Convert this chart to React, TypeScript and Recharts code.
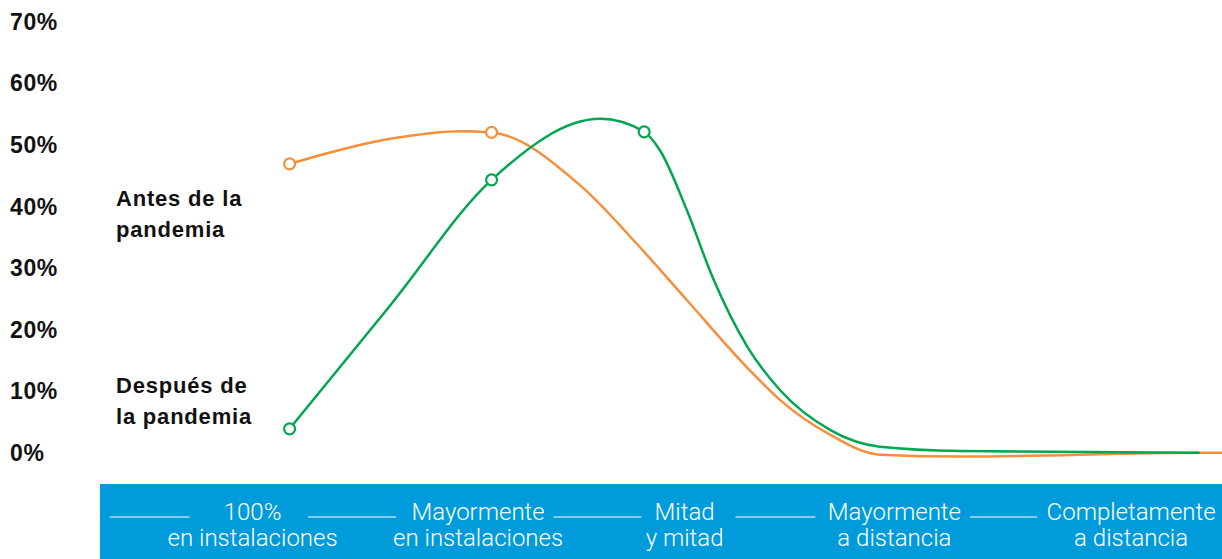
import { LineChart, Line, XAxis, YAxis, Legend } from "recharts";

const ORANGE = "#F68E3A";
const GREEN = "#00A651";
const BLUE = "#009BDB";

const seriesNames = ["Antes de la pandemia", "Después de la pandemia"];

// x = position along the work-mode band, 0 = left edge, 100 = right edge
const antesPos = [16.9, 26.7, 32.1, 34.9, 42.8, 48.1, 52.3, 57.7, 60.6, 65.1, 69.5, 76.7, 98.0, 100];
const antesValues = [46.9, 51.2, 52.2, 52.0, 43.4, 33.4, 24.8, 13.8, 8.6, 2.9, -0.3, -0.6, 0, 0];
const antesMarkers = [0, 3];

const despuesPos = [16.9, 25.9, 34.9, 44.6, 48.5, 49.9, 52.3, 54.6, 57.7, 60.6, 65.1, 69.5, 76.7, 98.0];
const despuesValues = [3.9, 24.0, 44.3, 54.2, 52.1, 49.1, 39.4, 28.5, 17.2, 10.2, 3.7, 1.0, 0.3, 0];
const despuesMarkers = [0, 2, 4];

const categoryTicks = [13.6, 33.7, 52.1, 70.8, 91.9];
const categoryLabels = [
  ["100%", "en instalaciones"],
  ["Mayormente", "en instalaciones"],
  ["Mitad", "y mitad"],
  ["Mayormente", "a distancia"],
  ["Completamente", "a distancia"],
];

const yTicks = [0, 10, 20, 30, 40, 50, 60, 70];

// underscore rules drawn before each category, relative to tick x
const separators = [
  [-143, -63],
  [-170, -82],
  [-131, -43],
  [-159, -79],
  [-161, -94],
];
const legendTops = [183, 370];

const antesData = antesPos.map((pos, i) => ({ pos, value: antesValues[i] }));
const despuesData = despuesPos.map((pos, i) => ({ pos, value: despuesValues[i] }));

const boldFont = {
  fontFamily: "'Liberation Sans', Arial, sans-serif",
  fontWeight: 700,
  fontSize: 22,
  letterSpacing: 0.8,
};

const YTick = (props: any) => {
  const { y, payload } = props;
  return (
    <text x={10} y={y} dy="0.36em" fill="#111" {...boldFont} fontSize={23} letterSpacing={0.6}>
      {payload.value}%
    </text>
  );
};

const XTick = (props: any) => {
  const { x, y, payload } = props;
  const i = categoryTicks.indexOf(payload.value);
  if (i < 0) return <g />;
  const [l1, l2] = categoryLabels[i];
  const [s0, s1] = separators[i];
  return (
    <g>
      <line x1={x + s0} x2={x + s1} y1={y + 58} y2={y + 58} stroke="#fff" strokeWidth={1.2} />
      <text
        x={x}
        y={y}
        textAnchor="middle"
        fill="#fff"
        fontFamily="Roboto, 'Open Sans', sans-serif"
        fontWeight={300}
        fontSize={24}
      >
        <tspan x={x} dy={61}>{l1}</tspan>
        <tspan x={x} dy={26}>{l2}</tspan>
      </text>
    </g>
  );
};

const makeDot = (markers: number[], color: string) => (props: any) => {
  const { cx, cy, index } = props;
  if (!markers.includes(index)) return <g key={`d-${index}`} />;
  return (
    <circle key={`d-${index}`} cx={cx} cy={cy} r={5.5} fill="#fff" stroke={color} strokeWidth={2.2} />
  );
};

const SeriesLegend = (props: any) => {
  const payload = props.payload || [];
  return (
    <div>
      {payload.map((entry: any, i: number) => (
        <div
          key={entry.value}
          style={{
            position: "absolute",
            left: 116,
            top: legendTops[i],
            width: 150,
            textAlign: "left",
            lineHeight: "31px",
            color: "#111",
            ...boldFont,
          }}
        >
          {entry.value}
        </div>
      ))}
    </div>
  );
};

export default function App() {
  return (
    <div style={{ position: "absolute", left: 0, top: 0, width: 1222, height: 559, background: "#fff" }}>
      <div style={{ position: "absolute", left: 100, top: 484, width: 1122, height: 75, background: BLUE }} />
      <div style={{ position: "absolute", left: 0, top: 0 }}>
        <LineChart width={1222} height={559} margin={{ top: 21.5, right: 0, bottom: 0, left: 0 }}>
          <XAxis
            type="number"
            dataKey="pos"
            domain={[0, 100]}
            ticks={categoryTicks}
            interval={0}
            tick={<XTick />}
            axisLine={false}
            tickLine={false}
            tickSize={0}
            tickMargin={0}
            height={100}
          />
          <YAxis
            type="number"
            domain={[-1, 70]}
            ticks={yTicks}
            interval={0}
            tick={<YTick />}
            axisLine={false}
            tickLine={false}
            width={100}
          />
          <Legend
            content={<SeriesLegend />}
            wrapperStyle={{ position: "absolute", left: 0, top: 0, width: 0, height: 0 }}
          />
          <Line
            data={antesData}
            dataKey="value"
            name={seriesNames[0]}
            type="monotone"
            stroke={ORANGE}
            strokeWidth={2.5}
            dot={makeDot(antesMarkers, ORANGE)}
            activeDot={false}
            isAnimationActive={false}
          />
          <Line
            data={despuesData}
            dataKey="value"
            name={seriesNames[1]}
            type="monotone"
            stroke={GREEN}
            strokeWidth={2.5}
            dot={makeDot(despuesMarkers, GREEN)}
            activeDot={false}
            isAnimationActive={false}
          />
        </LineChart>
      </div>
    </div>
  );
}
